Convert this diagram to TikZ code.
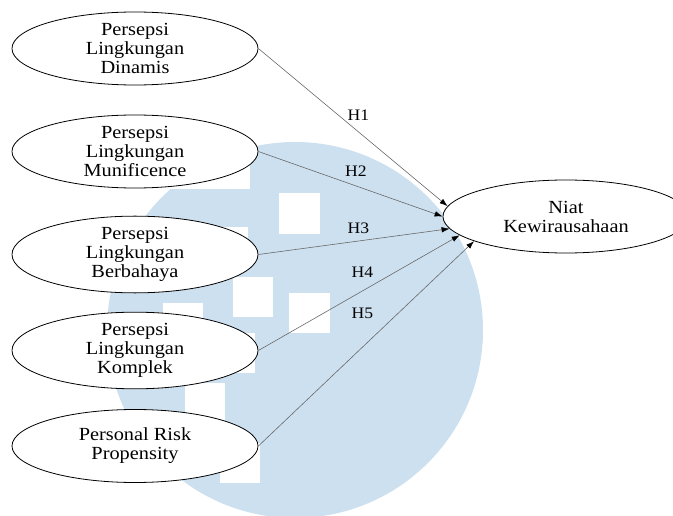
\documentclass[tikz,border=0pt]{standalone}
\usepackage{fontspec}
\setmainfont{Liberation Serif}[FakeStretch=1.1]
\usetikzlibrary{shapes.geometric,arrows.meta}
\definecolor{wmblue}{RGB}{205,224,240}
\definecolor{linegray}{RGB}{105,105,105}
\tikzset{
  ell/.style={ellipse, draw=black, line width=0.8pt, fill=white,
    minimum width=246pt, minimum height=73pt, inner sep=0pt,
    align=center, font=\fontsize{18.5}{19}\selectfont},
  hlab/.style={font=\fontsize{16}{16}\selectfont, inner sep=0pt},
  arr/.style={draw=linegray, line width=0.6pt,
    -{Latex[length=8pt,width=5.5pt,color=black]}},
  wsq/.style={fill=white}
}
\begin{document}
\begin{tikzpicture}[x=1pt,y=-1pt]
\useasboundingbox (0,0) rectangle (673,516);
\clip (0,0) rectangle (673,516);
% watermark
\fill[wmblue] (295,330) circle (188);
\fill[white] (0,0) rectangle (250,189);
\fill[wsq] (279,193) rectangle (320,234);
\fill[wsq] (233,277) rectangle (273,317);
\fill[wsq] (289,293) rectangle (330,333);
\fill[wsq] (163,303) rectangle (203,343);
\fill[wsq] (208,227) rectangle (248,267);
\fill[wsq] (215,333) rectangle (255,373);
\fill[wsq] (185,383) rectangle (225,423);
\fill[wsq] (220,443) rectangle (260,483);
% nodes
\node[ell] (e1) at (135,48.5) {Persepsi\\Lingkungan\\Dinamis};
\node[ell] (e2) at (135,151.5) {Persepsi\\Lingkungan\\Munificence};
\node[ell] (e3) at (135,254.5) {Persepsi\\Lingkungan\\Berbahaya};
\node[ell] (e4) at (135,350.5) {Persepsi\\Lingkungan\\Komplek};
\node[ell] (e5) at (135,446) {Personal Risk\\Propensity};
\node[ell] (n) at (566,216.5) {Niat\\Kewirausahaan};
% connectors
\draw[arr] (e1.east) -- (n.175);
\draw[arr] (e2.east) -- (n.180.7);
\draw[arr] (e3.east) -- (n.186.3);
\draw[arr] (e4.east) -- (n.190.8);
\draw[arr] (e5.east) -- (n.195.1);
% labels
\node[hlab] (h1) at (358.5,115) {H1};
\node[hlab] (h2) at (356,171) {H2};
\node[hlab] (h3) at (358.5,228) {H3};
\node[hlab] (h4) at (362.5,272) {H4};
\node[hlab] (h5) at (362.5,313) {H5};
\end{tikzpicture}
\end{document}
